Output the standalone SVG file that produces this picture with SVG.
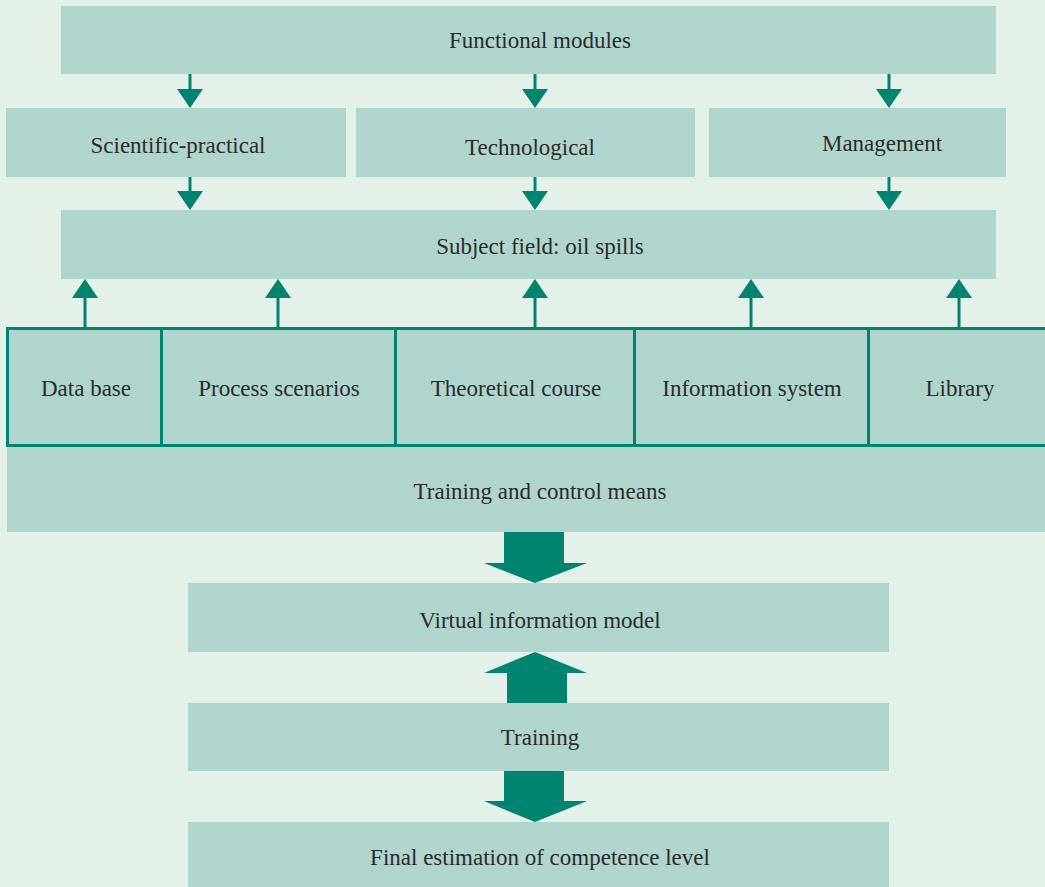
<svg xmlns="http://www.w3.org/2000/svg" width="1045" height="887" viewBox="0 0 1045 887">
  <defs>
    <!-- shared head shape for the thin connectors, pointing down from its origin -->
    <polygon id="tri-down" points="-13,0 13,0 0,19" fill="#00836f"/>
    <polygon id="tri-up" points="-13,0 13,0 0,-19" fill="#00836f"/>
  </defs>
  <rect x="0" y="0" width="1045" height="887" fill="#e4f1e8"/>

  <g fill="#b0d5cd">
    <g id="functional-modules">
      <rect x="61" y="6" width="935" height="68"/>
      <text x="540" y="48" font-family="Liberation Serif" font-size="23" fill="#2b2b2b" text-anchor="middle">Functional modules</text>
    </g>
    <g id="scientific-practical">
      <rect x="6" y="108" width="340" height="69"/>
      <text x="178" y="153" font-family="Liberation Serif" font-size="23" fill="#2b2b2b" text-anchor="middle">Scientific-practical</text>
    </g>
    <g id="technological">
      <rect x="356" y="108" width="339" height="69"/>
      <text x="530" y="155" font-family="Liberation Serif" font-size="23" fill="#2b2b2b" text-anchor="middle">Technological</text>
    </g>
    <g id="management">
      <rect x="709" y="108" width="297" height="69"/>
      <text x="882" y="151" font-family="Liberation Serif" font-size="23" fill="#2b2b2b" text-anchor="middle">Management</text>
    </g>
    <g id="subject-field">
      <rect x="61" y="210" width="935" height="69"/>
      <text x="540" y="254" font-family="Liberation Serif" font-size="23" fill="#2b2b2b" text-anchor="middle">Subject field: oil spills</text>
    </g>
    <g id="training-control-means">
      <rect x="7" y="327" width="1040" height="205"/>
      <text x="540" y="499" font-family="Liberation Serif" font-size="23" fill="#2b2b2b" text-anchor="middle">Training and control means</text>
    </g>
    <g id="data-base">
      <rect x="7.5" y="328.5" width="154" height="117" stroke="#00836f" stroke-width="3"/>
      <text x="86" y="396" font-family="Liberation Serif" font-size="23" fill="#2b2b2b" text-anchor="middle">Data base</text>
    </g>
    <g id="process-scenarios">
      <rect x="161.5" y="328.5" width="234" height="117" stroke="#00836f" stroke-width="3"/>
      <text x="279" y="396" font-family="Liberation Serif" font-size="23" fill="#2b2b2b" text-anchor="middle">Process scenarios</text>
    </g>
    <g id="theoretical-course">
      <rect x="395.5" y="328.5" width="239" height="117" stroke="#00836f" stroke-width="3"/>
      <text x="516" y="396" font-family="Liberation Serif" font-size="23" fill="#2b2b2b" text-anchor="middle">Theoretical course</text>
    </g>
    <g id="information-system">
      <rect x="634.5" y="328.5" width="234" height="117" stroke="#00836f" stroke-width="3"/>
      <text x="752" y="396" font-family="Liberation Serif" font-size="23" fill="#2b2b2b" text-anchor="middle">Information system</text>
    </g>
    <g id="library">
      <rect x="868.5" y="328.5" width="180" height="117" stroke="#00836f" stroke-width="3"/>
      <text x="960" y="396" font-family="Liberation Serif" font-size="23" fill="#2b2b2b" text-anchor="middle">Library</text>
    </g>
    <g id="virtual-information-model">
      <rect x="188" y="583" width="701" height="69"/>
      <text x="540" y="628" font-family="Liberation Serif" font-size="23" fill="#2b2b2b" text-anchor="middle">Virtual information model</text>
    </g>
    <g id="training">
      <rect x="188" y="703" width="701" height="68"/>
      <text x="540" y="745" font-family="Liberation Serif" font-size="23" fill="#2b2b2b" text-anchor="middle">Training</text>
    </g>
    <g id="final-estimation">
      <rect x="188" y="822" width="701" height="65"/>
      <text x="540" y="865" font-family="Liberation Serif" font-size="23" fill="#2b2b2b" text-anchor="middle">Final estimation of competence level</text>
    </g>
  </g>

  <g id="connectors" stroke="#00836f" stroke-width="3">
    <!-- module level down to the three branches, then on to the subject field -->
    <path d="M190 74V90M535 74V90M889 74V90M190 177V192M535 177V192M889 177V192" fill="none"/>
    <g stroke="none">
      <use href="#tri-down" x="190" y="89"/>
      <use href="#tri-down" x="535" y="89"/>
      <use href="#tri-down" x="889" y="89"/>
      <use href="#tri-down" x="190" y="191"/>
      <use href="#tri-down" x="535" y="191"/>
      <use href="#tri-down" x="889" y="191"/>
    </g>
    <!-- training means up to the subject field -->
    <path d="M85 297V327M278 297V327M535 297V327M751 297V327M959 297V327" fill="none"/>
    <g stroke="none">
      <use href="#tri-up" x="85" y="298"/>
      <use href="#tri-up" x="278" y="298"/>
      <use href="#tri-up" x="535" y="298"/>
      <use href="#tri-up" x="751" y="298"/>
      <use href="#tri-up" x="959" y="298"/>
    </g>
    <!-- block arrows in the lower chain -->
    <g stroke="none" fill="#00836f">
      <polygon points="504,532 564,532 564,563 587,563 535,583 484,563 504,563"/>
      <polygon points="507,703 567,703 567,673 587,673 535,652 484,673 507,673"/>
      <polygon points="504,771 564,771 564,801 587,801 535,822 484,801 504,801"/>
    </g>
  </g>
</svg>
